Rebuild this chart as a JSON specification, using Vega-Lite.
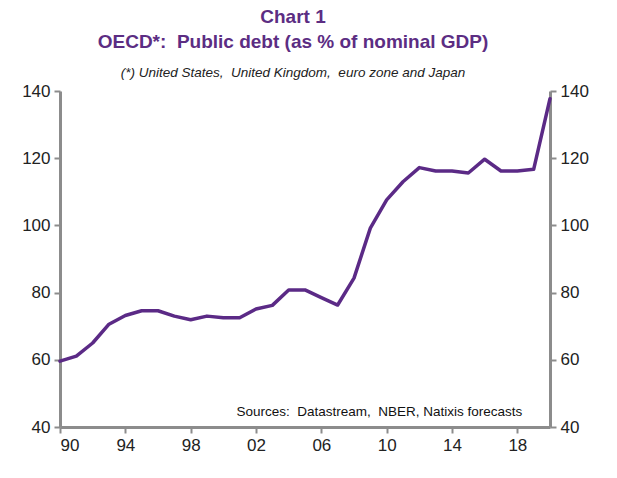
{
  "$schema": "https://vega.github.io/schema/vega-lite/v6.json",
  "width": 490,
  "height": 336,
  "autosize": {"type": "none"},
  "padding": {"left": 60, "top": 91, "right": 67, "bottom": 51},
  "background": "white",
  "config": {
    "view": {"stroke": null},
    "font": "Liberation Sans"
  },
  "title": {
    "text": ["Chart 1", "OECD*:\u00a0\u00a0Public debt (as % of nominal GDP)"],
    "subtitle": "(*) United States,\u00a0 United Kingdom,\u00a0 euro zone and Japan",
    "anchor": "middle",
    "dx": -12,
    "font": "Liberation Sans",
    "fontSize": 19,
    "fontWeight": "bold",
    "color": "#5C2D83",
    "lineHeight": 25,
    "subtitleFont": "Liberation Sans",
    "subtitleFontSize": 13.5,
    "subtitleFontStyle": "italic",
    "subtitleColor": "#222222",
    "subtitlePadding": 14,
    "offset": 3
  },
  "data": {
    "values": [
      {"year": 1990, "debt": 59.6},
      {"year": 1991, "debt": 61.1},
      {"year": 1992, "debt": 65.0},
      {"year": 1993, "debt": 70.6},
      {"year": 1994, "debt": 73.2},
      {"year": 1995, "debt": 74.6},
      {"year": 1996, "debt": 74.6},
      {"year": 1997, "debt": 73.0},
      {"year": 1998, "debt": 71.9},
      {"year": 1999, "debt": 73.0},
      {"year": 2000, "debt": 72.5},
      {"year": 2001, "debt": 72.5},
      {"year": 2002, "debt": 75.1},
      {"year": 2003, "debt": 76.2},
      {"year": 2004, "debt": 80.8},
      {"year": 2005, "debt": 80.8},
      {"year": 2006, "debt": 78.5},
      {"year": 2007, "debt": 76.3},
      {"year": 2008, "debt": 84.3},
      {"year": 2009, "debt": 99.2},
      {"year": 2010, "debt": 107.6},
      {"year": 2011, "debt": 113.0},
      {"year": 2012, "debt": 117.2},
      {"year": 2013, "debt": 116.2},
      {"year": 2014, "debt": 116.2},
      {"year": 2015, "debt": 115.6},
      {"year": 2016, "debt": 119.7},
      {"year": 2017, "debt": 116.2},
      {"year": 2018, "debt": 116.2},
      {"year": 2019, "debt": 116.7},
      {"year": 2020, "debt": 137.7}
    ]
  },
  "layer": [
    {
      "mark": {"type": "line", "color": "#5B2A86", "strokeWidth": 3.5, "strokeJoin": "round", "strokeCap": "round"},
      "encoding": {
        "x": {
          "field": "year",
          "type": "quantitative",
          "scale": {"domain": [1990, 2020], "nice": false, "zero": false},
          "axis": {
            "title": null,
            "grid": false,
            "values": [1990, 1994, 1998, 2002, 2006, 2010, 2014, 2018],
            "labelExpr": "substring(toString(datum.value), 2, 4)",
            "labelFont": "Liberation Sans",
            "labelFontSize": 17,
            "labelColor": "#222222",
            "labelPadding": 4,
            "domainColor": "#8c8c8c",
            "domainWidth": 3,
            "tickColor": "#8c8c8c",
            "tickWidth": 2,
            "tickSize": 6
          }
        },
        "y": {
          "field": "debt",
          "type": "quantitative",
          "scale": {"domain": [40, 140], "nice": false, "zero": false},
          "axis": {
            "title": null,
            "orient": "left",
            "grid": false,
            "values": [40, 60, 80, 100, 120, 140],
            "labelFont": "Liberation Sans",
            "labelFontSize": 17,
            "labelColor": "#222222",
            "labelPadding": 4,
            "domainColor": "#8c8c8c",
            "domainWidth": 3,
            "tickColor": "#8c8c8c",
            "tickWidth": 2,
            "tickSize": 6
          }
        }
      }
    },
    {
      "mark": {"type": "line", "opacity": 0},
      "encoding": {
        "x": {"field": "year", "type": "quantitative"},
        "y": {
          "field": "debt",
          "type": "quantitative",
          "axis": {
            "title": null,
            "orient": "right",
            "grid": false,
            "values": [40, 60, 80, 100, 120, 140],
            "labelFont": "Liberation Sans",
            "labelFontSize": 17,
            "labelColor": "#222222",
            "labelPadding": 4,
            "domainColor": "#8c8c8c",
            "domainWidth": 3,
            "tickColor": "#8c8c8c",
            "tickWidth": 2,
            "tickSize": 6
          }
        }
      }
    },
    {
      "data": {"values": [{"label": "Sources:\u00a0\u00a0Datastream,\u00a0\u00a0NBER, Natixis forecasts", "year": 2018.3, "debt": 44.6}]},
      "mark": {"type": "text", "align": "right", "baseline": "middle", "font": "Liberation Sans", "fontSize": 13.5, "color": "#111111"},
      "encoding": {
        "x": {"field": "year", "type": "quantitative"},
        "y": {"field": "debt", "type": "quantitative", "axis": null},
        "text": {"field": "label"}
      }
    }
  ],
  "resolve": {"axis": {"y": "independent"}}
}
